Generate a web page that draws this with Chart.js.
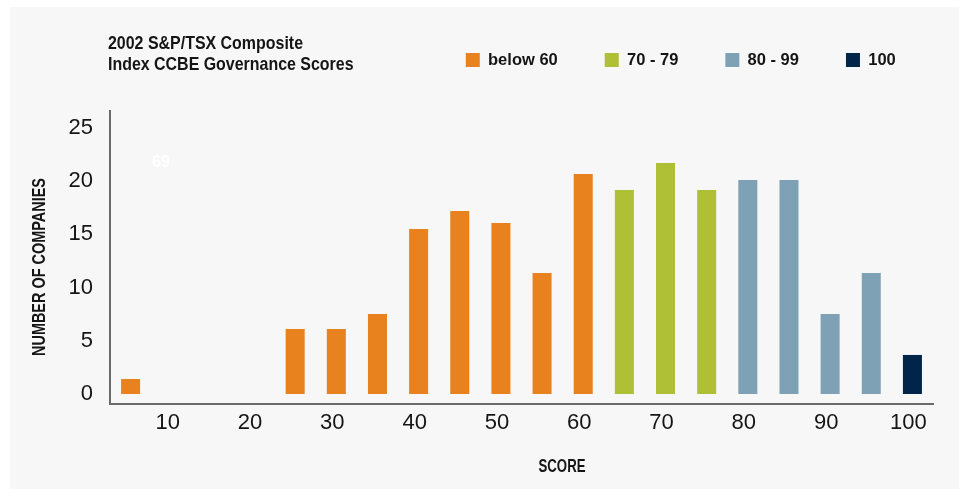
<!DOCTYPE html>
<html>
<head>
<meta charset="utf-8">
<script src="https://cdn.jsdelivr.net/npm/chart.js@4/dist/chart.umd.min.js"></script>
<style>
html,body{margin:0;padding:0;background:#fff;}
#wrap{position:relative;width:959px;height:489px;}
canvas{display:block;}
</style>
</head>
<body>
<div id="wrap"><canvas id="c" width="959" height="489"></canvas></div>
<script>
// ---- data ----
const scores = ['5','10','15','20','25','30','35','40','45','50','55','60','65','70','75','80','85','90','95','100'];
const belowSixty       = [1.41, null, null, null, 6.11, 6.11, 7.52, 15.5, 17.2, 16.07, 11.37, 20.68, null, null, null, null, null, null, null, null];
const seventies        = [null, null, null, null, null, null, null, null, null, null, null, null, 19.17, 21.71, 19.17, null, null, null, null, null];
const eightiesNineties = [null, null, null, null, null, null, null, null, null, null, null, null, null, null, null, 20.11, 20.11, 7.52, 11.37, null];
const hundred          = [null, null, null, null, null, null, null, null, null, null, null, null, null, null, null, null, null, null, null, 3.67];
const seriesNames  = ['below 60', '70 - 79', '80 - 99', '100'];
const seriesColors = ['#E8821F', '#AFC036', '#7FA1B5', '#002548'];
const yTicks = [0, 5, 10, 15, 20, 25];
const xTickLabels = ['10','20','30','40','50','60','70','80','90','100'];
const titleLines = ['2002 S&P/TSX Composite', 'Index CCBE Governance Scores'];
const yAxisTitle = 'NUMBER OF COMPANIES';
const xAxisTitle = 'SCORE';
const strayLabel = '69';

const FAMILY = "'Liberation Sans', Arial, sans-serif";
const TEXT = '#151515';

function fittedText(ctx, text, x, y, targetWidth) {
  const w = ctx.measureText(text).width;
  const s = targetWidth / w;
  ctx.save();
  ctx.translate(x, y);
  ctx.scale(s, 1);
  ctx.fillText(text, 0, 0);
  ctx.restore();
  return s;
}

const decor = {
  id: 'decor',
  beforeDraw(chart) {
    const ctx = chart.ctx;
    ctx.save();
    ctx.fillStyle = '#ffffff';
    ctx.fillRect(0, 0, chart.width, chart.height);
    ctx.fillStyle = '#f7f7f7';
    ctx.fillRect(10, 7, chart.width - 10, chart.height - 7);
    ctx.restore();
  },
  afterDraw(chart) {
    const ctx = chart.ctx;
    ctx.save();
    ctx.fillStyle = TEXT;
    ctx.textBaseline = 'alphabetic';
    // chart title (two lines, condensed)
    ctx.textAlign = 'left';
    ctx.font = "bold 19px " + FAMILY;
    const s = 195 / ctx.measureText(titleLines[0]).width;
    [49, 70].forEach((yy, i) => {
      ctx.save();
      ctx.translate(108, yy);
      ctx.scale(s, 1);
      ctx.fillText(titleLines[i], 0, 0);
      ctx.restore();
    });
    // axis titles
    ctx.font = "bold 17.5px " + FAMILY;
    ctx.textAlign = 'center';
    fittedText(ctx, xAxisTitle, 562, 472, 47);
    ctx.save();
    ctx.translate(45, 267);
    ctx.rotate(-Math.PI / 2);
    fittedText(ctx, yAxisTitle, 0, 0, 178);
    ctx.restore();
    // faint stray label
    ctx.fillStyle = '#ffffff';
    ctx.font = "bold 16px " + FAMILY;
    ctx.textAlign = 'left';
    ctx.fillText(strayLabel, 152, 167);
    ctx.restore();
  }
};

const legendSpace = {
  id: 'legendSpace',
  afterInit(chart) {
    const lg = chart.legend;
    if (!lg) return;
    const fit = lg.fit.bind(lg);
    lg.fit = function () { fit(); this.height += 32.75; };
  }
};

const makeSet = (i, data) => ({
  label: seriesNames[i],
  data: data,
  backgroundColor: seriesColors[i],
  borderWidth: 0,
  barPercentage: 0.462,
  categoryPercentage: 1.0
});

new Chart(document.getElementById('c'), {
  type: 'bar',
  data: {
    labels: scores,
    datasets: [
      makeSet(0, belowSixty),
      makeSet(1, seventies),
      makeSet(2, eightiesNineties),
      makeSet(3, hundred)
    ]
  },
  options: {
    responsive: false,
    animation: false,
    devicePixelRatio: 1,
    layout: { padding: { left: 10, right: 16.25, top: 4.75, bottom: 0 } },
    plugins: {
      legend: {
        display: true,
        position: 'top',
        align: 'end',
        labels: {
          boxWidth: 14,
          boxHeight: 14,
          padding: 47,
          color: TEXT,
          font: { family: FAMILY, size: 16.5, weight: 'bold' }
        }
      },
      title: { display: false },
      tooltip: { enabled: false }
    },
    scales: {
      x: {
        stacked: true,
        offset: true,
        grid: { display: false, drawTicks: false },
        border: { display: true, color: '#6a6a6a', width: 2 },
        ticks: {
          autoSkip: false,
          maxRotation: 0,
          minRotation: 0,
          padding: 6,
          labelOffset: -4,
          color: TEXT,
          font: { family: FAMILY, size: 22 },
          callback: (v, i) => xTickLabels.includes(scores[i]) ? scores[i] : ''
        },
        afterFit(s) { s.height = 85; }
      },
      y: {
        stacked: true,
        min: -0.94,
        max: 26.6,
        grid: { display: false, drawTicks: false },
        border: { display: true, color: '#6a6a6a', width: 2 },
        ticks: {
          padding: 17,
          color: TEXT,
          font: { family: FAMILY, size: 22 }
        },
        afterBuildTicks(s) { s.ticks = yTicks.map(v => ({ value: v })); },
        afterFit(s) { s.width = 100; }
      },
      yRight: {
        position: 'right',
        display: true,
        grid: { display: false, drawTicks: false },
        border: { display: false },
        ticks: { display: false },
        afterFit(s) { s.width = 9.75; }
      }
    }
  },
  plugins: [decor, legendSpace]
});
</script>
</body>
</html>
